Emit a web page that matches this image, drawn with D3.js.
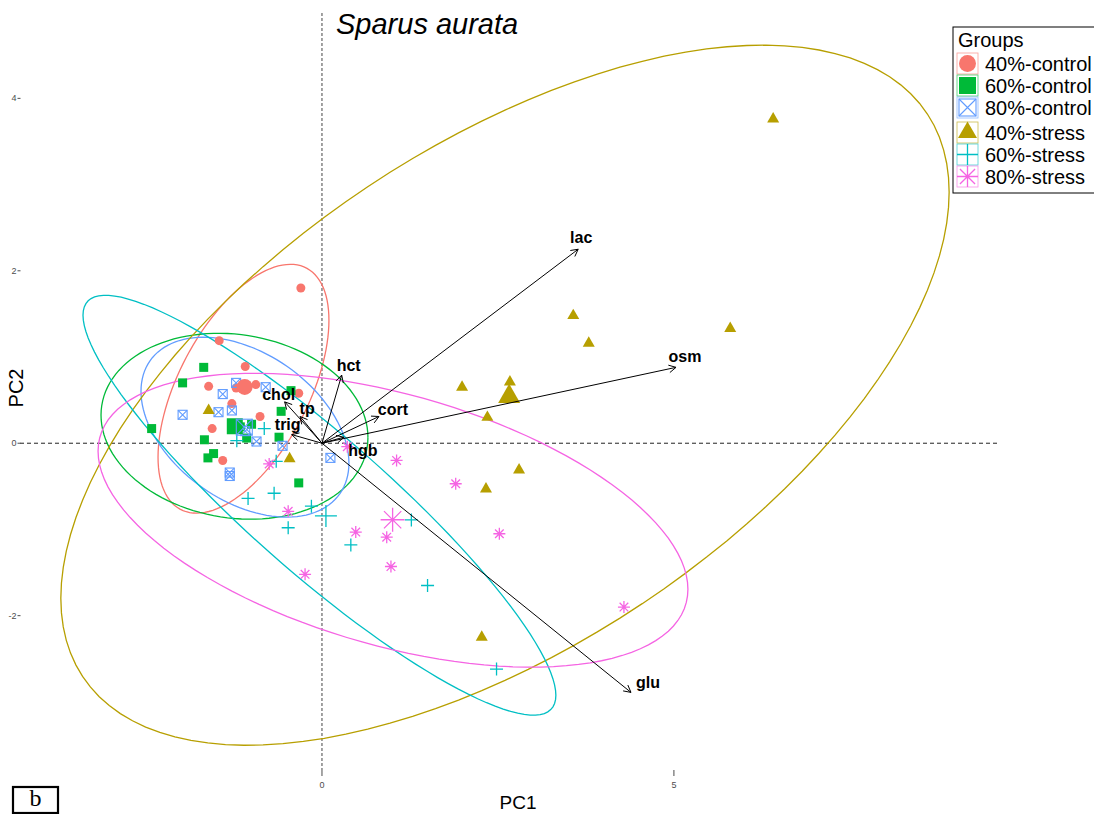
<!DOCTYPE html>
<html>
<head>
<meta charset="utf-8">
<script src="https://cdn.jsdelivr.net/npm/d3@7"></script>
<style>
  body { margin: 0; background: #fff; }
  svg { display: block; font-family: "Liberation Sans", Arial, Helvetica, sans-serif; }
</style>
</head>
<body>
<svg id="chart" width="1094" height="814"></svg>
<script>
// ---- groups ----
const groups      = ["40%-control", "60%-control", "80%-control", "40%-stress", "60%-stress", "80%-stress"];
const groupColors = ["#F8766D", "#00BA38", "#619CFF", "#B79F00", "#00BFC4", "#F564E3"];
const groupShapes = ["circle", "square", "boxX", "triangle", "plus", "asterisk"];

// ---- individual scores [PC1, PC2] ----
const control40 = [[-0.30,1.80],[-1.46,1.19],[-1.09,0.89],[-1.61,0.66],[-0.94,0.68],[-1.22,0.64],
                   [-1.28,0.46],[-0.88,0.31],[-1.56,0.17],[-1.41,-0.20],[-0.33,0.58]];
const control60 = [[-1.68,0.88],[-1.98,0.70],[-2.42,0.17],[-1.67,0.04],[-1.62,-0.17],[-1.54,-0.12],
                   [-1.16,0.19],[-1.00,0.22],[-1.07,0.06],[-0.44,0.61],[-0.58,0.37],[-0.61,0.07],[-0.33,-0.46]];
const control80 = [[-1.22,0.70],[-1.41,0.57],[-0.80,0.65],[-1.98,0.33],[-1.47,0.36],[-1.28,0.38],
                   [-1.09,0.14],[-0.93,0.02],[-0.56,-0.03],[-1.31,-0.34],[-1.31,-0.38],[0.12,-0.17]];
const stress40  = [[6.41,3.76],[3.57,1.48],[5.80,1.33],[3.79,1.16],[1.99,0.65],[2.67,0.71],
                   [2.35,0.30],[2.80,-0.31],[2.33,-0.53],[2.27,-2.25],[-1.61,0.38],[-0.46,-0.18]];
const stress60  = [[-0.82,0.17],[-1.21,0.03],[-0.65,-0.21],[-1.05,-0.64],[-0.68,-0.58],[-0.48,-0.98],
                   [-0.15,-0.73],[1.27,-0.89],[0.41,-1.18],[1.50,-1.65],[2.48,-2.62]];
const stress80  = [[-0.75,-0.24],[-0.48,-0.79],[-0.24,-1.52],[0.36,-0.04],[1.06,-0.20],[1.90,-0.47],
                   [0.48,-1.03],[0.92,-1.09],[2.52,-1.05],[0.98,-1.43],[4.29,-1.90]];
const groupScores = [control40, control60, control80, stress40, stress60, stress80];

// ---- concentration ellipses: centre, half extent on each axis, correlation ----
const ellCenterPC1 = [-1.115, -1.243, -1.094, 2.60, -0.036, 1.009];
const ellCenterPC2 = [ 0.632,  0.197,  0.186, 0.557, -0.719, -0.893];
const ellHalfPC1   = [ 1.214,  1.896,  1.477, 6.31,  3.359,  4.19];
const ellHalfPC2   = [ 1.443,  1.078,  1.043, 4.06,  2.435,  1.704];
const ellCorr      = [ 0.55,  -0.12,  -0.40,  0.58, -0.905, -0.47];

// ---- variable loadings ----
const varNames = ["lac", "osm", "glu", "hct", "cort", "hgb", "chol", "tp", "trig"];
const loadPC1  = [3.64, 5.03, 4.39, 0.28, 0.81, 0.31, -0.53, -0.31, -0.43];
const loadPC2  = [2.25, 0.88, -2.89, 0.79, 0.31, 0.07, 0.48, 0.31, 0.10];
// label offsets from the arrow tip, in pixels
const labelDx  = [3, 9, 17, 7, 14, 19, -6, 7, -4];
const labelDy  = [-12, -11, -10, -10, -7, 13, -7, -8, -10];

// ---- axes ----
const xTicks = [0, 5];
const yTicks = [-2, 0, 2, 4];

const svg = d3.select("#chart");
const x = d3.scaleLinear().domain([-4.29, 9.59]).range([20, 997]);
const y = d3.scaleLinear().domain([-3.79, 4.99]).range([770, 13]);

// reference lines through the origin
svg.append("line")
  .attr("x1", x.range()[0]).attr("x2", x.range()[1])
  .attr("y1", y(0)).attr("y2", y(0))
  .attr("stroke", "#222").attr("stroke-width", 1).attr("stroke-dasharray", "4,3");
svg.append("line")
  .attr("x1", x(0)).attr("x2", x(0))
  .attr("y1", y.range()[1]).attr("y2", y.range()[0])
  .attr("stroke", "#444").attr("stroke-width", 1).attr("stroke-dasharray", "3,2");

// ticks
const tickCol = "#4d4d4d";
xTicks.forEach(v => {
  svg.append("line").attr("x1", x(v)).attr("x2", x(v)).attr("y1", 770).attr("y2", 776)
    .attr("stroke", tickCol).attr("stroke-width", 1);
  svg.append("text").attr("x", x(v)).attr("y", 788).attr("text-anchor", "middle")
    .attr("font-size", 9).attr("fill", tickCol).text(v);
});
yTicks.forEach(v => {
  svg.append("line").attr("x1", 17.5).attr("x2", 20.5).attr("y1", y(v)).attr("y2", y(v))
    .attr("stroke", tickCol).attr("stroke-width", 1);
  svg.append("text").attr("x", 16.5).attr("y", y(v) + 3).attr("text-anchor", "end")
    .attr("font-size", 9).attr("fill", tickCol).text(v);
});

// ellipses
const lineGen = d3.line().x(d => x(d[0])).y(d => y(d[1]));
groups.forEach((g, i) => {
  const delta = Math.acos(ellCorr[i]);
  const pts = d3.range(0, 121).map(k => {
    const t = 2 * Math.PI * k / 120;
    return [ellCenterPC1[i] + ellHalfPC1[i] * Math.cos(t),
            ellCenterPC2[i] + ellHalfPC2[i] * Math.cos(t - delta)];
  });
  svg.append("path").attr("d", lineGen(pts)).attr("fill", "none")
    .attr("stroke", groupColors[i]).attr("stroke-width", 1.3);
});

// symbol drawing
function drawSymbol(parent, shape, cx, cy, s, col) {
  const g = parent.append("g").attr("transform", `translate(${cx},${cy})`);
  const h = s / 2;
  if (shape === "circle") {
    g.append("circle").attr("r", h).attr("fill", col);
  } else if (shape === "square") {
    g.append("rect").attr("x", -h).attr("y", -h).attr("width", s).attr("height", s).attr("fill", col);
  } else if (shape === "boxX") {
    g.append("rect").attr("x", -h).attr("y", -h).attr("width", s).attr("height", s)
      .attr("fill", "none").attr("stroke", col).attr("stroke-width", 1.1);
    g.append("path").attr("d", `M${-h},${-h}L${h},${h}M${-h},${h}L${h},${-h}`)
      .attr("stroke", col).attr("stroke-width", 1.1);
  } else if (shape === "triangle") {
    const th = s * 0.87;
    g.append("path").attr("d", `M0,${-th * 2 / 3}L${h},${th / 3}L${-h},${th / 3}Z`).attr("fill", col);
  } else if (shape === "plus") {
    g.append("path").attr("d", `M${-h},0L${h},0M0,${-h}L0,${h}`)
      .attr("stroke", col).attr("stroke-width", 1.3);
  } else if (shape === "asterisk") {
    const d = h * 0.72;
    g.append("path").attr("d", `M${-h},0L${h},0M0,${-h}L0,${h}M${-d},${-d}L${d},${d}M${-d},${d}L${d},${-d}`)
      .attr("stroke", col).attr("stroke-width", 1.3);
  }
  return g;
}

const smallSize = { circle: 9, square: 9, boxX: 9, triangle: 12, plus: 13, asterisk: 12 };
const bigSize   = { circle: 16, square: 16, boxX: 16, triangle: 22, plus: 22, asterisk: 24 };

// individuals
const ptsLayer = svg.append("g");
groups.forEach((g, i) => {
  groupScores[i].forEach(p => {
    drawSymbol(ptsLayer, groupShapes[i], x(p[0]), y(p[1]), smallSize[groupShapes[i]], groupColors[i]);
  });
});
// group means
groups.forEach((g, i) => {
  const mx = d3.mean(groupScores[i], p => p[0]);
  const my = d3.mean(groupScores[i], p => p[1]);
  drawSymbol(ptsLayer, groupShapes[i], x(mx), y(my), bigSize[groupShapes[i]], groupColors[i]);
});

// variable arrows
const arrLayer = svg.append("g");
varNames.forEach((v, i) => {
  const x0 = x(0), y0 = y(0), x1 = x(loadPC1[i]), y1 = y(loadPC2[i]);
  const ang = Math.atan2(y1 - y0, x1 - x0);
  const hl = 8, ha = 28 * Math.PI / 180;
  const ax1 = x1 - hl * Math.cos(ang - ha), ay1 = y1 - hl * Math.sin(ang - ha);
  const ax2 = x1 - hl * Math.cos(ang + ha), ay2 = y1 - hl * Math.sin(ang + ha);
  arrLayer.append("path")
    .attr("d", `M${x0},${y0}L${x1},${y1}M${ax1},${ay1}L${x1},${y1}L${ax2},${ay2}`)
    .attr("fill", "none").attr("stroke", "#000").attr("stroke-width", 1);
  arrLayer.append("text")
    .attr("x", x1 + labelDx[i]).attr("y", y1 + labelDy[i])
    .attr("text-anchor", "middle").attr("dominant-baseline", "central")
    .attr("font-size", 16).attr("font-weight", "bold").attr("fill", "#000").text(v);
});

// title and axis titles
svg.append("text").attr("x", 336).attr("y", 34).attr("font-size", 29)
  .attr("font-style", "italic").attr("fill", "#000").text("Sparus aurata");
svg.append("text").attr("x", 518).attr("y", 809).attr("text-anchor", "middle")
  .attr("font-size", 19).attr("fill", "#000").text("PC1");
svg.append("text").attr("transform", "translate(23,388) rotate(-90)").attr("text-anchor", "middle")
  .attr("font-size", 20).attr("fill", "#000").text("PC2");

// legend
const leg = svg.append("g");
leg.append("rect").attr("x", 953).attr("y", 27).attr("width", 200).attr("height", 166)
  .attr("fill", "#fff").attr("stroke", "#000").attr("stroke-width", 1);
leg.append("text").attr("x", 958).attr("y", 47).attr("font-size", 20).attr("fill", "#000").text("Groups");
const keySize = 21;
const legSymSize = { circle: 17, square: 17, boxX: 17, triangle: 19, plus: 21, asterisk: 21 };
groups.forEach((g, i) => {
  const top = 53 + i * 22 + (i >= 3 ? 3 : 0);
  const cx = 957 + keySize / 2, cy = top + keySize / 2;
  leg.append("rect").attr("x", 957).attr("y", top).attr("width", keySize).attr("height", keySize)
    .attr("fill", "#fff").attr("stroke", groupColors[i]).attr("stroke-width", 0.8).attr("stroke-opacity", 0.7);
  drawSymbol(leg, groupShapes[i], cx, cy, legSymSize[groupShapes[i]], groupColors[i]);
  leg.append("text").attr("x", 985).attr("y", cy).attr("dominant-baseline", "central")
    .attr("font-size", 20).attr("fill", "#000").text(g);
});

// panel tag
svg.append("rect").attr("x", 13).attr("y", 787).attr("width", 45).attr("height", 26)
  .attr("fill", "none").attr("stroke", "#000").attr("stroke-width", 2.2);
svg.append("text").attr("x", 35.5).attr("y", 806).attr("text-anchor", "middle")
  .attr("font-family", "'Liberation Serif', 'DejaVu Serif', serif").attr("font-size", 24)
  .attr("fill", "#000").text("b");
</script>
</body>
</html>
